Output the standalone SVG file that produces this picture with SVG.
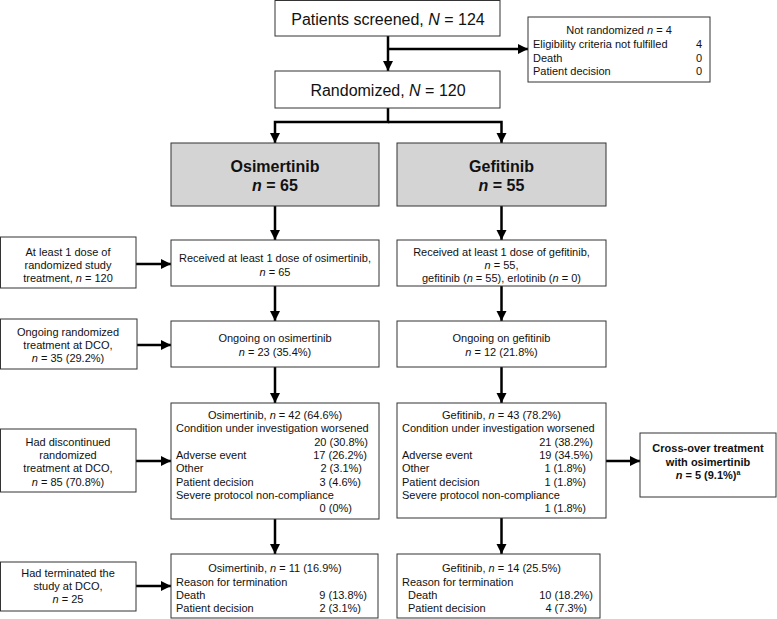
<svg xmlns="http://www.w3.org/2000/svg" width="777" height="619" viewBox="0 0 777 619">
<defs>
<marker id="ah" markerUnits="userSpaceOnUse" markerWidth="11" markerHeight="11" refX="10" refY="5" orient="auto">
<path d="M0,0 L10,5 L0,10 z" fill="#000"/>
</marker>
<style>
text{font-family:"Liberation Sans",Arial,sans-serif;fill:#111;}
.s{font-size:11px;}
.big{font-size:16px;}
.c{text-anchor:middle;}
.e{text-anchor:end;}
.b{font-weight:bold;}
.i{font-style:italic;}
rect.box{fill:#fff;stroke:#333;stroke-width:1;}
rect.arm{fill:#d4d4d4;stroke:#333;stroke-width:1;}
.con path{fill:none;stroke:#000;stroke-width:2.5;}
</style>
</defs>
<rect width="777" height="619" fill="#fff"/>

<g class="con">
<path d="M388,36 V71" marker-end="url(#ah)"/>
<path d="M388,49 H528" marker-end="url(#ah)"/>
<path d="M388,108 V122 H275 V143" marker-end="url(#ah)"/>
<path d="M388,122 H501.5 V143" marker-end="url(#ah)"/>
<path d="M275,206 V240" marker-end="url(#ah)"/>
<path d="M501.5,206 V240" marker-end="url(#ah)"/>
<path d="M275,286 V321" marker-end="url(#ah)"/>
<path d="M501.5,286 V321" marker-end="url(#ah)"/>
<path d="M275,367 V403" marker-end="url(#ah)"/>
<path d="M501.5,367 V403" marker-end="url(#ah)"/>
<path d="M275,519 V554" marker-end="url(#ah)"/>
<path d="M501.5,518 V554" marker-end="url(#ah)"/>
<path d="M136,264 H171" marker-end="url(#ah)"/>
<path d="M137,345 H171" marker-end="url(#ah)"/>
<path d="M136,461 H171" marker-end="url(#ah)"/>
<path d="M136,586 H171" marker-end="url(#ah)"/>
<path d="M606,461 H640" marker-end="url(#ah)"/>
</g>

<g id="screened">
<rect class="box" x="275" y="0.5" width="225" height="35.5"/>
<text class="big c" x="388" y="25">Patients screened, <tspan class="i">N</tspan> = 124</text>
</g>

<g id="not-randomized">
<rect class="box" x="528" y="17" width="182" height="65"/>
<text class="s c" x="619" y="34">Not randomized <tspan class="i">n</tspan> = 4</text>
<text class="s" x="533" y="48">Eligibility criteria not fulfilled</text>
<text class="s e" x="702" y="48">4</text>
<text class="s" x="533" y="61.5">Death</text>
<text class="s e" x="702" y="61.5">0</text>
<text class="s" x="533" y="75">Patient decision</text>
<text class="s e" x="702" y="75">0</text>
</g>

<g id="randomized">
<rect class="box" x="275" y="71" width="225" height="37"/>
<text class="big c" x="388" y="96">Randomized, <tspan class="i">N</tspan> = 120</text>
</g>

<g id="arm-osimertinib">
<rect class="arm" x="171" y="143" width="208" height="63"/>
<text class="big c b" x="275" y="172">Osimertinib</text>
<text class="big c b" x="275" y="191"><tspan class="i">n</tspan> = 65</text>
</g>

<g id="arm-gefitinib">
<rect class="arm" x="397" y="143" width="209" height="63"/>
<text class="big c b" x="501.5" y="172">Gefitinib</text>
<text class="big c b" x="501.5" y="191"><tspan class="i">n</tspan> = 55</text>
</g>

<g id="left-dose">
<rect class="box" x="0.5" y="237" width="135.5" height="51"/>
<text class="s c" x="68" y="256">At least 1 dose of</text>
<text class="s c" x="68" y="269">randomized study</text>
<text class="s c" x="68" y="282">treatment, <tspan class="i">n</tspan> = 120</text>
</g>

<g id="osi-received">
<rect class="box" x="171" y="240" width="208" height="46"/>
<text class="s c" x="275" y="262">Received at least 1 dose of osimertinib,</text>
<text class="s c" x="275" y="276"><tspan class="i">n</tspan> = 65</text>
</g>

<g id="gef-received">
<rect class="box" x="397" y="240" width="209" height="46"/>
<text class="s c" x="501.5" y="256">Received at least 1 dose of gefitinib,</text>
<text class="s c" x="501.5" y="269"><tspan class="i">n</tspan> = 55,</text>
<text class="s c" x="501.5" y="282">gefitinib (<tspan class="i">n</tspan> = 55), erlotinib (<tspan class="i">n</tspan> = 0)</text>
</g>

<g id="left-ongoing">
<rect class="box" x="0.5" y="319" width="136.5" height="50"/>
<text class="s c" x="68" y="336">Ongoing randomized</text>
<text class="s c" x="68" y="349">treatment at DCO,</text>
<text class="s c" x="68" y="362"><tspan class="i">n</tspan> = 35 (29.2%)</text>
</g>

<g id="osi-ongoing">
<rect class="box" x="171" y="321" width="208" height="46"/>
<text class="s c" x="275" y="342">Ongoing on osimertinib</text>
<text class="s c" x="275" y="356"><tspan class="i">n</tspan> = 23 (35.4%)</text>
</g>

<g id="gef-ongoing">
<rect class="box" x="397" y="321" width="209" height="46"/>
<text class="s c" x="501.5" y="342">Ongoing on gefitinib</text>
<text class="s c" x="501.5" y="356"><tspan class="i">n</tspan> = 12 (21.8%)</text>
</g>

<g id="left-discontinued">
<rect class="box" x="0.5" y="429" width="135.5" height="63"/>
<text class="s c" x="68" y="446">Had discontinued</text>
<text class="s c" x="68" y="459">randomized</text>
<text class="s c" x="68" y="472">treatment at DCO,</text>
<text class="s c" x="68" y="486"><tspan class="i">n</tspan> = 85 (70.8%)</text>
</g>

<g id="osi-discontinued">
<rect class="box" x="171" y="403" width="208" height="116"/>
<text class="s c" x="275" y="419">Osimertinib, <tspan class="i">n</tspan> = 42 (64.6%)</text>
<text class="s" x="176" y="432.3">Condition under investigation worsened</text>
<text class="s e" x="368" y="445.7">20 (30.8%)</text>
<text class="s" x="176" y="459">Adverse event</text>
<text class="s e" x="367" y="459">17 (26.2%)</text>
<text class="s" x="176" y="472.3">Other</text>
<text class="s e" x="362" y="472.3">2 (3.1%)</text>
<text class="s" x="176" y="485.7">Patient decision</text>
<text class="s e" x="361" y="485.7">3 (4.6%)</text>
<text class="s" x="176" y="499">Severe protocol non-compliance</text>
<text class="s e" x="352" y="512.3">0 (0%)</text>
</g>

<g id="gef-discontinued">
<rect class="box" x="397" y="403" width="209" height="115"/>
<text class="s c" x="501.5" y="419">Gefitinib, <tspan class="i">n</tspan> = 43 (78.2%)</text>
<text class="s" x="402" y="432.3">Condition under investigation worsened</text>
<text class="s e" x="593" y="445.7">21 (38.2%)</text>
<text class="s" x="402" y="459">Adverse event</text>
<text class="s e" x="593" y="459">19 (34.5%)</text>
<text class="s" x="402" y="472.3">Other</text>
<text class="s e" x="586" y="472.3">1 (1.8%)</text>
<text class="s" x="402" y="485.7">Patient decision</text>
<text class="s e" x="586" y="485.7">1 (1.8%)</text>
<text class="s" x="402" y="499">Severe protocol non-compliance</text>
<text class="s e" x="586" y="512.3">1 (1.8%)</text>
</g>

<g id="crossover">
<rect class="box" x="640" y="433" width="136" height="64"/>
<text class="s c b" x="708" y="452">Cross-over treatment</text>
<text class="s c b" x="708" y="466">with osimertinib</text>
<text class="s c b" x="708" y="479"><tspan class="i">n</tspan> = 5 (9.1%)<tspan font-size="7" dy="-4">a</tspan></text>
</g>

<g id="left-terminated">
<rect class="box" x="0.5" y="562" width="135.5" height="49"/>
<text class="s c" x="68" y="577">Had terminated the</text>
<text class="s c" x="68" y="590">study at DCO,</text>
<text class="s c" x="68" y="603"><tspan class="i">n</tspan> = 25</text>
</g>

<g id="osi-terminated">
<rect class="box" x="171" y="554" width="207" height="64"/>
<text class="s c" x="275" y="572">Osimertinib, <tspan class="i">n</tspan> = 11 (16.9%)</text>
<text class="s" x="176" y="585.5">Reason for termination</text>
<text class="s" x="176" y="598.7">Death</text>
<text class="s e" x="367" y="598.7">9 (13.8%)</text>
<text class="s" x="176" y="611.8">Patient decision</text>
<text class="s e" x="361" y="611.8">2 (3.1%)</text>
</g>

<g id="gef-terminated">
<rect class="box" x="397" y="554" width="203" height="64"/>
<text class="s c" x="501.5" y="572">Gefitinib, <tspan class="i">n</tspan> = 14 (25.5%)</text>
<text class="s" x="402" y="585.5">Reason for termination</text>
<text class="s" x="408" y="598.7">Death</text>
<text class="s e" x="593" y="598.7">10 (18.2%)</text>
<text class="s" x="408" y="611.8">Patient decision</text>
<text class="s e" x="587" y="611.8">4 (7.3%)</text>
</g>
</svg>
